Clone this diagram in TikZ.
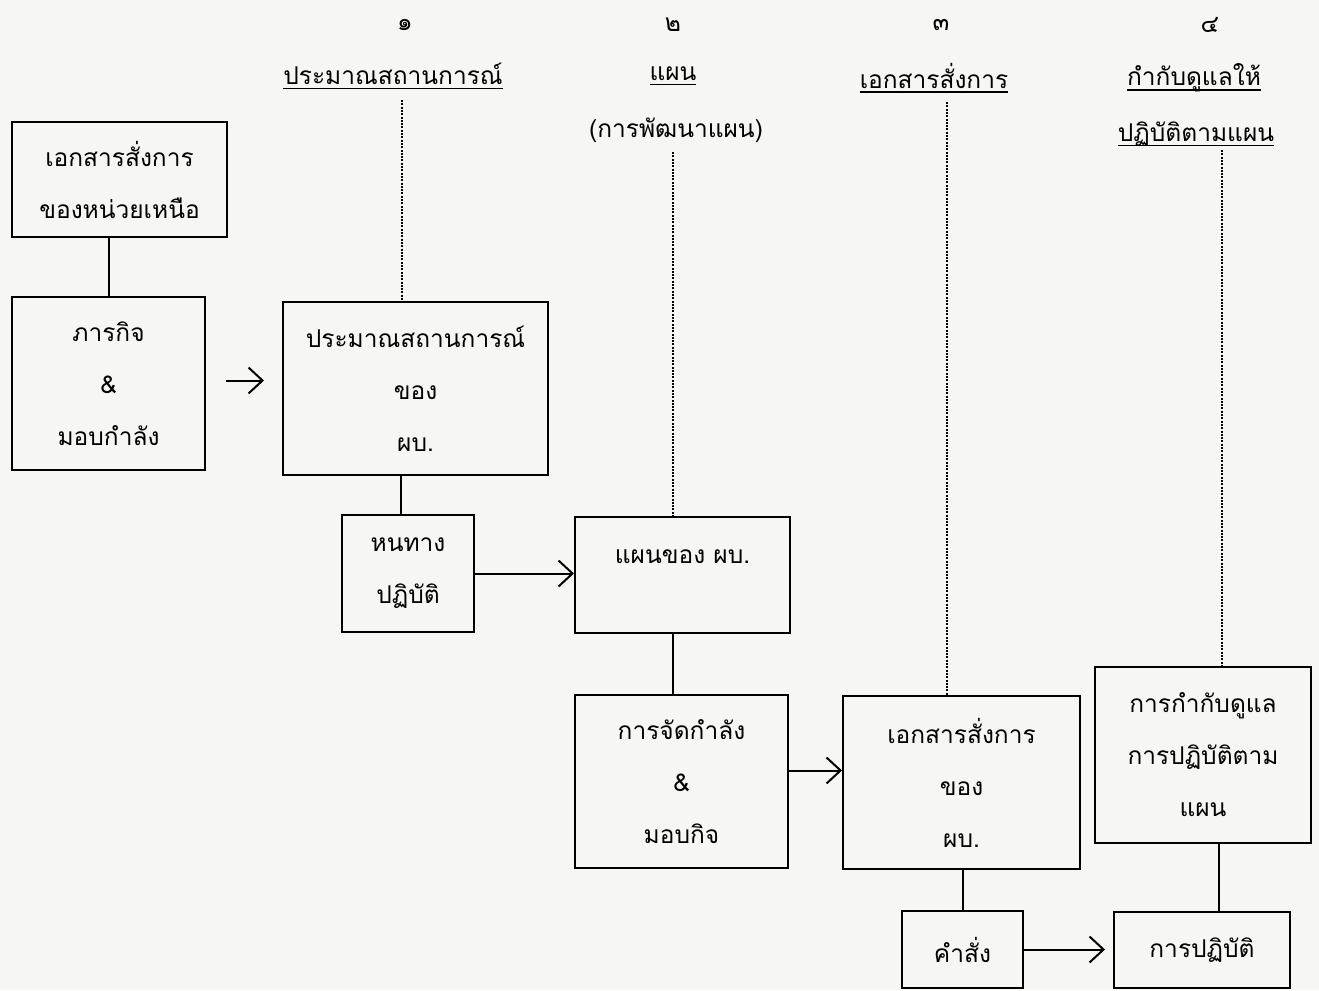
\documentclass[tikz,border=0pt]{standalone}
\usepackage{fontspec}
\newfontfamily\thaifont[Script=Thai]{Loma}
\usetikzlibrary{arrows.meta}
\definecolor{paper}{HTML}{F6F6F4}
\newcommand\myul[1]{\setbox0\hbox{#1}\rlap{\rule[-5pt]{\wd0}{1.6pt}}\box0}
\begin{document}
\begin{tikzpicture}[x=1pt,y=-1pt,
  box/.style={draw, line width=2pt, inner sep=0pt, align=center, font=\thaifont\fontsize{24.5}{52}\selectfont},
  head/.style={inner sep=0pt, font=\thaifont\fontsize{24.5}{28}\selectfont},
  link/.style={line width=2pt},
  arr/.style={line width=2pt, -{Straight Barb[length=14pt,width=26pt,line width=2pt]}},
  dots/.style={line width=2.4pt, dash pattern=on 2pt off 1.3pt}
]
\fill[paper] (0,0) rectangle (1319,990);
\useasboundingbox (0,0) rectangle (1319,990);

% boxes
\node[box, minimum width=215pt, minimum height=115pt] (b1) at (119.5,179.5) {เอกสารสั่งการ\\ของหน่วยเหนือ};
\node[box, minimum width=193pt, minimum height=173pt] (b2) at (108.5,383.5) {ภารกิจ\\\&\\มอบกำลัง};
\node[box, minimum width=265pt, minimum height=173pt] (b3) at (415.5,388.5) {ประมาณสถานการณ์\\ของ\\ผบ.};
\node[box, minimum width=132pt, minimum height=117pt] (b4) at (408,573.5) {หนทาง\\ปฏิบัติ};
\node[box, minimum width=215pt, minimum height=116pt] (b5) at (682.5,575) {แผนของ ผบ.\\[-16pt]\mbox{}};
\node[box, minimum width=213pt, minimum height=173pt] (b6) at (681.5,781.5) {การจัดกำลัง\\\&\\มอบกิจ};
\node[box, minimum width=237pt, minimum height=173pt] (b7) at (961.5,782.5) {เอกสารสั่งการ\\ของ\\ผบ.};
\node[box, minimum width=216pt, minimum height=176pt] (b8) at (1203,755) {การกำกับดูแล\\การปฏิบัติตาม\\แผน};
\node[box, minimum width=121pt, minimum height=77pt] (b9) at (962.5,949.5) {คำสั่ง};
\node[box, minimum width=176pt, minimum height=76pt] (b10) at (1202,950) {การปฏิบัติ};

% headings
\node[head] (n1) at (405,25) {๑};
\node[head] (n2) at (673,25) {๒};
\node[head] (n3) at (941,25) {๓};
\node[head] (n4) at (1210,25) {๔};
\node[head] (h1) at (393,76) {\myul{ประมาณสถานการณ์}};
\node[head] (h2) at (673,76) {\myul{แผน}};
\node[head] (h3) at (934,78) {\myul{เอกสารสั่งการ}};
\node[head] (h4) at (1194,78) {\myul{กำกับดูแลให้}};
\node[head] (h5) at (1196,134) {\myul{ปฏิบัติตามแผน}};
\node[head] (h6) at (676,130) {(การพัฒนาแผน)};

% dotted guides
\coordinate (d1) at (402,100);
\coordinate (d2) at (673,152);
\coordinate (d3) at (947,102);
\coordinate (d4) at (1222,150);
\draw[dots] (d1) -- (d1 |- b3.north);
\draw[dots] (d2) -- (d2 |- b5.north);
\draw[dots] (d3) -- (d3 |- b7.north);
\draw[dots] (d4) -- (d4 |- b8.north);

% solid links
\coordinate (c3) at (401,0);
\coordinate (c5) at (673,0);
\coordinate (c8) at (1219,0);
\draw[link] (b2.north) -- (b2.north |- b1.south);
\draw[link] (c3 |- b3.south) -- (c3 |- b4.north);
\draw[link] (c5 |- b5.south) -- (c5 |- b6.north);
\draw[link] (b9.north) -- (b9.north |- b7.south);
\draw[link] (c8 |- b8.south) -- (c8 |- b10.north);

% arrows
\draw[arr] ([shift={(20pt,3pt)}]b2.east) -- ([shift={(-18pt,3pt)}]b2.east -| b3.west);
\draw[arr] (b4.east) -- (b4.east -| b5.west);
\draw[arr] ([yshift=11pt]b6.east) -- ([yshift=11pt]b6.east -| b7.west);
\draw[arr, shorten >=8pt] (b9.east) -- (b9.east -| b10.west);
\end{tikzpicture}
\end{document}
